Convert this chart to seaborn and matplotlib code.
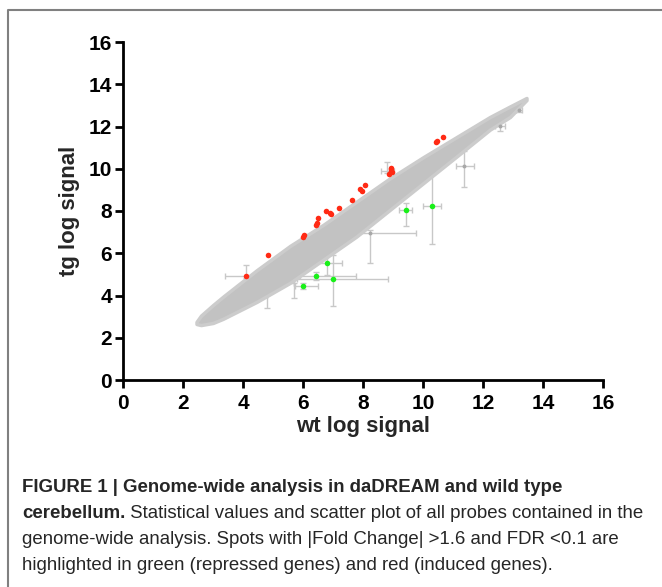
# -*- coding: utf-8 -*-
# tg vs wt log signal scatter, with caption underneath

import numpy as np
import pandas as pd
import matplotlib
matplotlib.use("Agg")
import matplotlib.pyplot as plt
import seaborn as sns
from matplotlib import font_manager
from matplotlib.lines import Line2D

# %% data

# grey cloud of all probes, drawn as a band (wt position, lower / upper tg edge)
band_wt = [2.45, 2.6, 3.0, 3.34, 4.46, 5.57, 6.68, 7.79, 8.9, 10.01, 11.12, 12.23, 12.9, 13.45]
band_hi = [2.75, 3.05, 3.55, 3.95, 5.2, 6.35, 7.35, 8.45, 9.55, 10.55, 11.5, 12.45, 12.95, 13.35]
band_lo = [2.65, 2.6, 2.7, 2.9, 3.7, 4.6, 5.7, 6.8, 8.06, 9.32, 10.58, 11.85, 12.45, 13.25]

# grey probes with long error bars sticking out of the band
grey_wt = [8.23, 11.37, 12.57, 13.21, 4.81, 5.70, 8.79, 9.43]
grey_tg = [6.98, 10.14, 12.04, 12.80, 4.03, 4.58, 9.90, 9.00]
grey_x0 = [7.79, 11.09, 12.39, 13.11, 4.81, 5.70, 8.60, 8.90]
grey_x1 = [9.76, 11.70, 12.75, 13.31, 4.81, 5.70, 9.05, 9.60]
grey_y0 = [5.53, 9.13, 11.79, 12.70, 3.40, 3.87, 9.80, 8.90]
grey_y1 = [7.10, 10.82, 12.29, 12.90, 4.03, 4.58, 10.30, 9.10]

# induced genes (red)
red_wt = [4.09, 4.83, 6.01, 6.04, 6.43, 6.47, 6.51, 6.78, 6.91, 6.94, 7.21, 7.64,
          7.91, 7.96, 8.08, 8.87, 8.92, 8.94, 8.92, 8.98, 10.42, 10.48, 10.67]
red_tg = [4.93, 5.94, 6.79, 6.87, 7.36, 7.45, 7.69, 7.99, 7.90, 7.85, 8.13, 8.53,
          9.02, 8.96, 9.25, 9.73, 9.87, 10.00, 10.03, 9.84, 11.25, 11.33, 11.48]
red_err_wt = [4.09]
red_err_tg = [4.93]
red_err_x0 = [3.40]
red_err_x1 = [4.73]
red_err_y0 = [4.82]
red_err_y1 = [5.45]

# repressed genes (green)
green_wt = [6.00, 6.43, 6.79, 7.01, 9.43, 10.30]
green_tg = [4.45, 4.94, 5.56, 4.79, 8.06, 8.25]
green_x0 = [5.73, 5.90, 6.40, 5.79, 9.21, 10.00]
green_x1 = [6.50, 7.77, 7.31, 8.84, 9.65, 10.60]
green_y0 = [4.30, 4.75, 4.97, 3.50, 7.27, 6.43]
green_y1 = [4.60, 5.10, 6.00, 5.90, 8.37, 9.80]

ticks = [0, 2, 4, 6, 8, 10, 12, 14, 16]

caption_1 = "FIGURE 1 | Genome-wide analysis in daDREAM and wild type"
caption_2b = "cerebellum."
caption_2 = " Statistical values and scatter plot of all probes contained in the"
caption_3 = "genome-wide analysis. Spots with |Fold Change| >1.6 and FDR <0.1 are"
caption_4 = "highlighted in green (repressed genes) and red (induced genes)."

# %% plot

sns.set_style("ticks")
names = {f.name for f in font_manager.fontManager.ttflist}
ax_font = ["Liberation Sans", "DejaVu Sans"]
cap_font = ["Liberation Sans Narrow", "Liberation Sans", "DejaVu Sans"]
cap_font = [f for f in cap_font if f in names] or ["DejaVu Sans"]
plt.rcParams["font.family"] = ax_font

W, H = 662, 587
fig = plt.figure(figsize=(W / 100, H / 100), dpi=100)
ax = fig.add_axes([123 / W, 1 - 380 / H, 480 / W, 338 / H])

ax.fill_between(band_wt, band_lo, band_hi, color="#c2c2c2", edgecolor="#cccccc",
                linewidth=2.5, zorder=2)


def bars(wt, tg, x0, x1, y0, y1, z):
    wt, tg = np.array(wt), np.array(tg)
    xerr = [wt - np.array(x0), np.array(x1) - wt]
    yerr = [tg - np.array(y0), np.array(y1) - tg]
    ax.errorbar(wt, tg, xerr=xerr, yerr=yerr, fmt="none", ecolor="#c8c8c8",
                elinewidth=1, capsize=2.5, capthick=1, zorder=z)


bars(grey_wt, grey_tg, grey_x0, grey_x1, grey_y0, grey_y1, 1)
bars(red_err_wt, red_err_tg, red_err_x0, red_err_x1, red_err_y0, red_err_y1, 1)
bars(green_wt, green_tg, green_x0, green_x1, green_y0, green_y1, 1)

sns.scatterplot(x=grey_wt[:4], y=grey_tg[:4], color="#a8a8a8", s=8,
                linewidth=0, ax=ax, zorder=3)
sns.scatterplot(x=red_wt, y=red_tg, color="#ff2a14", s=16, linewidth=0,
                ax=ax, zorder=4)
sns.scatterplot(x=green_wt, y=green_tg, color="#19f019", s=16, linewidth=0,
                ax=ax, zorder=4)

ax.set_xlim(0, 16)
ax.set_ylim(0, 16)
ax.set_xticks(ticks)
ax.set_yticks(ticks)
ax.set_xticklabels([str(t) for t in ticks], fontweight="bold")
ax.set_yticklabels([str(t) for t in ticks], fontweight="bold")
ax.tick_params(direction="out", length=6, width=2, labelsize=15, colors="black",
               pad=2)
ax.tick_params(axis="x", pad=4)
for side in ["top", "right"]:
    ax.spines[side].set_visible(False)
for side in ["left", "bottom"]:
    ax.spines[side].set_linewidth(2)
    ax.spines[side].set_color("black")
    ax.spines[side].set_capstyle("projecting")

ax.set_xlabel("wt log signal", fontsize=16, fontweight="bold", labelpad=2)
ax.set_ylabel("tg log signal", fontsize=16, fontweight="bold", labelpad=6)

# frame round the figure panel (open at right and bottom, as cut)
fig.add_artist(Line2D([8 / W, 8 / W, 1], [0, 1 - 10 / H, 1 - 10 / H],
                      transform=fig.transFigure, color="#808080", linewidth=1.5))

# caption
cs = 13.4
x0 = 22 / W
fig.text(x0, 1 - 487 / H, caption_1, fontsize=cs, fontweight="bold",
         family=cap_font, va="center")
tb = fig.text(x0, 1 - 513 / H, caption_2b, fontsize=cs, fontweight="bold",
              family=cap_font, va="center")
fig.canvas.draw()
bb = tb.get_window_extent()
fig.text(bb.x1 / W, 1 - 513 / H, caption_2, fontsize=cs, family=cap_font,
         va="center")
fig.text(x0, 1 - 540 / H, caption_3, fontsize=cs, family=cap_font, va="center")
fig.text(x0, 1 - 566 / H, caption_4, fontsize=cs, family=cap_font, va="center")

fig.savefig("out.png", dpi=100)
